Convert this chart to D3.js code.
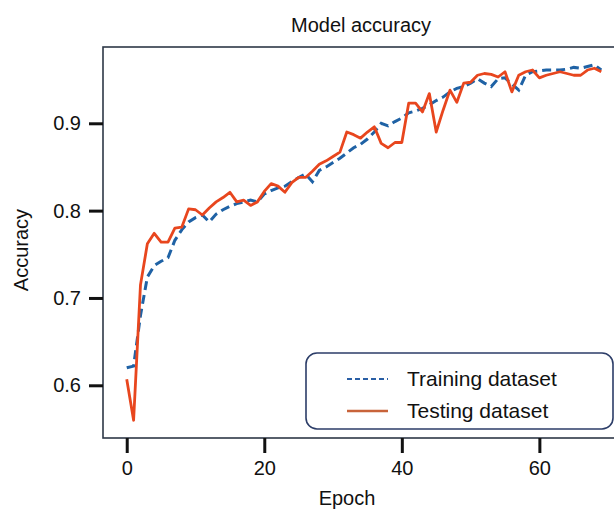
<!DOCTYPE html>
<html>
<head>
<meta charset="utf-8">
<script src="https://cdn.jsdelivr.net/npm/d3@7"></script>
<style>
	body { margin: 0; background: #fff; }
	svg { display: block; font-family: "Liberation Sans", Arial, sans-serif; }
</style>
</head>
<body>
<div id="chart"></div>
<script>

const trainAcc = [
	0.620, 0.622, 0.680, 0.724, 0.737, 0.742, 0.746, 0.766, 0.778, 0.787,
	0.792, 0.795, 0.787, 0.796, 0.801, 0.805, 0.808, 0.810, 0.812, 0.810,
	0.819, 0.823, 0.826, 0.828, 0.833, 0.838, 0.842, 0.833, 0.846, 0.850,
	0.855, 0.860, 0.866, 0.872, 0.876, 0.882, 0.890, 0.900, 0.897, 0.902,
	0.906, 0.912, 0.914, 0.917, 0.921, 0.926, 0.930, 0.936, 0.940, 0.942,
	0.946, 0.951, 0.946, 0.942, 0.951, 0.952, 0.945, 0.938, 0.955, 0.959,
	0.960, 0.961, 0.961, 0.961, 0.962, 0.964, 0.963, 0.965, 0.967, 0.961
];

const testAcc = [
	0.607, 0.560, 0.715, 0.762, 0.774, 0.764, 0.764, 0.780, 0.781, 0.802,
	0.801, 0.795, 0.803, 0.810, 0.815, 0.821, 0.810, 0.812, 0.806, 0.810,
	0.822, 0.831, 0.828, 0.821, 0.832, 0.838, 0.838, 0.845, 0.853, 0.857,
	0.862, 0.867, 0.890, 0.887, 0.883, 0.890, 0.896, 0.877, 0.872, 0.878,
	0.878, 0.923, 0.923, 0.913, 0.934, 0.890, 0.915, 0.938, 0.924, 0.946,
	0.947, 0.955, 0.957, 0.956, 0.953, 0.959, 0.936, 0.955, 0.959, 0.961,
	0.952, 0.955, 0.957, 0.959, 0.957, 0.955, 0.955, 0.961, 0.963, 0.959
];

const xTicks = [0, 20, 40, 60];
const yTicks = [0.6, 0.7, 0.8, 0.9];
const seriesNames = ["Training dataset", "Testing dataset"];

const width = 614, height = 509;
// plot box; the right side runs past the picture edge like the original crop
const box = { left: 103, right: 625, top: 47, bottom: 438 };

const colors = { train: "#1f62a5", test: "#e8461e", axis: "#2d3847" };

const svg = d3.select("#chart").append("svg")
	.attr("width", width)
	.attr("height", height);

// matplotlib style margins (5%) around the data
const n = trainAcc.length;
const xPad = (n - 1) * 0.05;
const x = d3.scaleLinear()
	.domain([-xPad, n - 1 + xPad])
	.range([box.left, box.right]);

const allVals = trainAcc.concat(testAcc);
const yMin = d3.min(allVals), yMax = d3.max(allVals);
const yPad = (yMax - yMin) * 0.05;
const y = d3.scaleLinear()
	.domain([yMin - yPad, yMax + yPad])
	.range([box.bottom, box.top]);

// frame
svg.append("rect")
	.attr("x", box.left)
	.attr("y", box.top)
	.attr("width", box.right - box.left)
	.attr("height", box.bottom - box.top)
	.attr("fill", "none")
	.attr("stroke", colors.axis)
	.attr("stroke-width", 1.6);

// axes
const xAxis = svg.append("g")
	.attr("transform", `translate(0,${box.bottom})`)
	.call(d3.axisBottom(x).tickValues(xTicks).tickSize(15).tickPadding(8).tickFormat(d3.format("d")));

const yAxis = svg.append("g")
	.attr("transform", `translate(${box.left},0)`)
	.call(d3.axisLeft(y).tickValues(yTicks).tickSize(14).tickPadding(8).tickFormat(d3.format(".1f")));

[xAxis, yAxis].forEach(ax => {
	ax.select(".domain").remove();
	ax.selectAll(".tick line").attr("stroke", "#111").attr("stroke-width", 3);
	ax.selectAll(".tick text").attr("fill", "#111").attr("font-size", 20);
});

// lines
const line = d3.line()
	.x((d, i) => x(i))
	.y(d => y(d));

svg.append("path")
	.datum(trainAcc)
	.attr("d", line)
	.attr("fill", "none")
	.attr("stroke", colors.train)
	.attr("stroke-width", 3)
	.attr("stroke-dasharray", "9,5");

svg.append("path")
	.datum(testAcc)
	.attr("d", line)
	.attr("fill", "none")
	.attr("stroke", colors.test)
	.attr("stroke-width", 2.8)
	.attr("stroke-linejoin", "round");

// titles
svg.append("text")
	.attr("x", 361)
	.attr("y", 32)
	.attr("text-anchor", "middle")
	.attr("font-size", 20)
	.attr("fill", "#111")
	.text("Model accuracy");

svg.append("text")
	.attr("x", 347)
	.attr("y", 505)
	.attr("text-anchor", "middle")
	.attr("font-size", 20)
	.attr("fill", "#111")
	.text("Epoch");

svg.append("text")
	.attr("transform", "translate(28,250) rotate(-90)")
	.attr("text-anchor", "middle")
	.attr("font-size", 20)
	.attr("fill", "#111")
	.text("Accuracy");

// legend
const legend = svg.append("g").attr("transform", "translate(306,353)");

legend.append("rect")
	.attr("width", 307)
	.attr("height", 76)
	.attr("rx", 11)
	.attr("fill", "#fff")
	.attr("stroke", "#2c3d68")
	.attr("stroke-width", 1.6);

const legendStyles = [
	{ color: "#2a5fa5", dash: "5,3", w: 2 },
	{ color: "#c8633a", dash: null, w: 2.5 }
];

seriesNames.forEach((name, i) => {
	const row = legend.append("g").attr("transform", `translate(0,${26 + i * 32})`);
	row.append("line")
		.attr("x1", 41).attr("x2", 82)
		.attr("stroke", legendStyles[i].color)
		.attr("stroke-width", legendStyles[i].w)
		.attr("stroke-dasharray", legendStyles[i].dash);
	row.append("text")
		.attr("x", 101)
		.attr("y", 7)
		.attr("font-size", 21)
		.attr("fill", "#111")
		.text(name);
});

</script>
</body>
</html>
